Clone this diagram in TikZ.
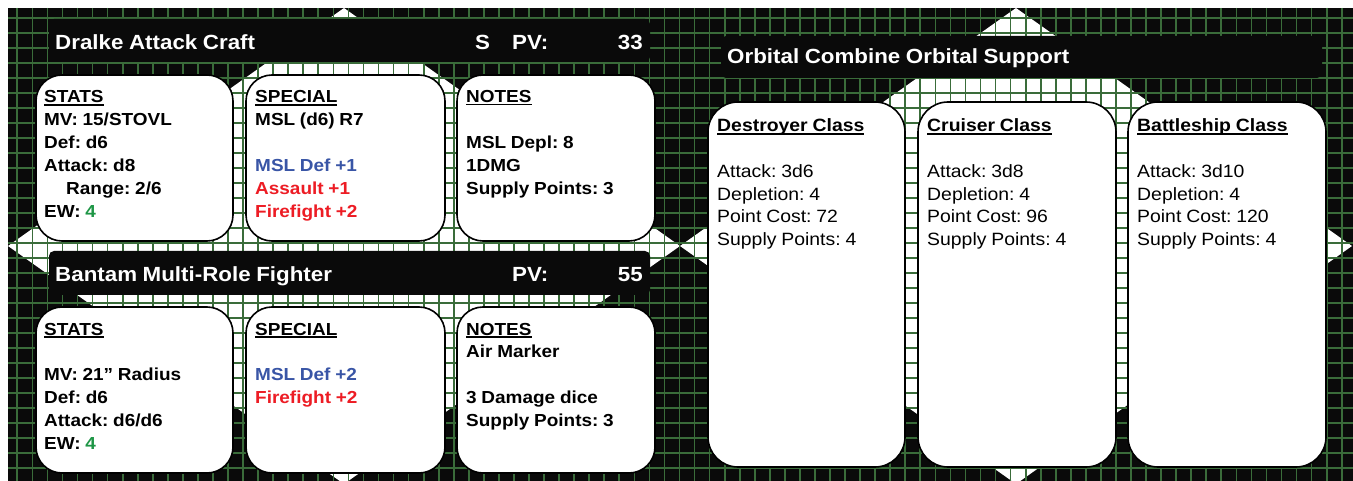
\documentclass[tikz,border=0pt]{standalone}
\usepackage{fontspec}
\setmainfont{Liberation Sans}[FakeStretch=1.09, WordSpace=0.9]
\frenchspacing
\definecolor{gridgreen}{RGB}{58,108,58}
\definecolor{bgblack}{RGB}{10,10,10}
\definecolor{msblue}{RGB}{57,85,166}
\definecolor{msred}{RGB}{237,28,36}
\definecolor{msgreen}{RGB}{30,150,70}
\newcommand\hdline[1]{\setbox0=\hbox{#1}\rlap{\rule[-3pt]{\wd0}{1.8pt}}\box0}
\newcommand\cardtext[1]{\begin{tabular}[t]{@{}l@{}}#1\end{tabular}}
\begin{document}
\frenchspacing
\begin{tikzpicture}[x=1pt,y=-1pt,
  gridline/.style={draw=gridgreen, line width=1.7pt},
  card/.style={draw=black, line width=1.6pt, fill=white, rounded corners=26pt, inner sep=0pt},
  headbar/.style={fill=bgblack, rounded corners=5pt, inner sep=0pt},
  headtext/.style={anchor=base west, inner sep=0pt, text=white, font=\fontsize{20.5}{24}\selectfont\bfseries},
  boldtext/.style={anchor=base west, inner sep=0pt, font=\fontsize{17.4}{22.9}\selectfont\bfseries},
  plaintext/.style={anchor=base west, inner sep=0pt, font=\fontsize{17.8}{22.8}\selectfont}]
\useasboundingbox (0,0) rectangle (1353,481);
% background
\fill[bgblack] (8,8) rectangle (1353,481);
\fill[white] (344,8) -- (680,246) -- (344,484) -- (8,246) -- cycle;
\fill[white] (1016,8) -- (1352,246) -- (1016,484) -- (680,246) -- cycle;
\begin{scope}
\clip (8,8) rectangle (1353,481);
\foreach \i in {0,...,88} \draw[gridline] ({17.3+15.05*\i},8) -- ({17.3+15.05*\i},481);
\foreach \j in {0,...,30} \draw[gridline] (8,{18.3+15*\j}) -- (1353,{18.3+15*\j});
\end{scope}
% header bars
\node[headbar, minimum width=601pt, minimum height=43pt] (h1) at (349.5,40.5) {};
\node[headbar, minimum width=601pt, minimum height=44pt] (h2) at (349.5,273) {};
\node[headbar, minimum width=601pt, minimum height=42pt] (h3) at (1021.5,57) {};
\node[headtext] (h1t) at (55,50) {Dralke Attack Craft};
\node[headtext] (h1s) at (475,50) {S};
\node[headtext] (h1p) at (512,50) {PV:};
\node[headtext, anchor=base east] (h1v) at (643,50) {33};
\node[headtext] (h2t) at (55,281.5) {Bantam Multi-Role Fighter};
\node[headtext] (h2p) at (512,281.5) {PV:};
\node[headtext, anchor=base east] (h2v) at (643,281.5) {55};
\node[headtext] (h3t) at (727,64) {Orbital Combine Orbital Support};
% cards
\node[card, minimum width=197pt, minimum height=166pt] (c1) at (134.5,158) {};
\node[card, minimum width=199pt, minimum height=166pt] (c2) at (345.5,158) {};
\node[card, minimum width=198pt, minimum height=166pt] (c3) at (556,158) {};
\node[card, minimum width=197pt, minimum height=166pt] (c4) at (134.5,390) {};
\node[card, minimum width=199pt, minimum height=166pt] (c5) at (345.5,390) {};
\node[card, minimum width=198pt, minimum height=166pt] (c6) at (556,390) {};
\node[card, minimum width=197pt, minimum height=365pt, rounded corners=30pt] (r1) at (806.5,284.5) {};
\node[card, minimum width=198pt, minimum height=365pt, rounded corners=30pt] (r2) at (1017,284.5) {};
\node[card, minimum width=198pt, minimum height=365pt, rounded corners=30pt] (r3) at (1227,284.5) {};
% card texts
\node[boldtext] (t1) at (44,103) {\cardtext{\hdline{STATS}\\ MV: 15/STOVL\\ Def: d6\\ Attack: d8\\ \hspace{22pt}Range: 2/6\\ EW: \textcolor{msgreen}{4}}};
\node[boldtext] (t2) at (255,103) {\cardtext{\hdline{SPECIAL}\\ MSL (d6) R7\\ \\ \textcolor{msblue}{MSL Def +1}\\ \textcolor{msred}{Assault +1}\\ \textcolor{msred}{Firefight +2}}};
\node[boldtext] (t3) at (466,102.5) {\cardtext{\hdline{NOTES}\\ \\ MSL Depl: 8\\ 1DMG\\ Supply Points: 3}};
\node[boldtext] (t4) at (44,335) {\cardtext{\hdline{STATS}\\ \\ MV: 21” Radius\\ Def: d6\\ Attack: d6/d6\\ EW: \textcolor{msgreen}{4}}};
\node[boldtext] (t5) at (255,335) {\cardtext{\hdline{SPECIAL}\\ \\ \textcolor{msblue}{MSL Def +2}\\ \textcolor{msred}{Firefight +2}}};
\node[boldtext] (t6) at (466,335) {\cardtext{\hdline{NOTES}\\ Air Marker\\ \\ 3 Damage dice\\ Supply Points: 3}};
\node[plaintext] (u1) at (717,131.7) {\cardtext{\textbf{\hdline{Destroyer Class}}\\ \\ Attack: 3d6\\ Depletion: 4\\ Point Cost: 72\\ Supply Points: 4}};
\node[plaintext] (u2) at (927,131.7) {\cardtext{\textbf{\hdline{Cruiser Class}}\\ \\ Attack: 3d8\\ Depletion: 4\\ Point Cost: 96\\ Supply Points: 4}};
\node[plaintext] (u3) at (1137,131.7) {\cardtext{\textbf{\hdline{Battleship Class}}\\ \\ Attack: 3d10\\ Depletion: 4\\ Point Cost: 120\\ Supply Points: 4}};
\end{tikzpicture}
\end{document}
